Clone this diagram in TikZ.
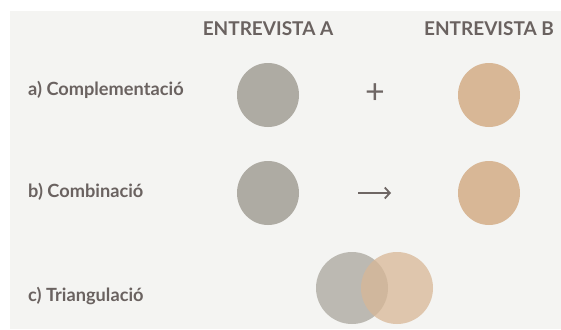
\documentclass[tikz,border=0pt]{standalone}
\usepackage{fontspec}
\usetikzlibrary{arrows.meta}
\setmainfont{Lato}[BoldFont={* Bold}]
\definecolor{bgc}{HTML}{F4F4F2}
\definecolor{txt}{HTML}{6A6260}
\definecolor{greyc}{HTML}{AEABA3}
\definecolor{orangec}{HTML}{D8B796}
\definecolor{sym}{HTML}{6E6664}
\begin{document}
\begin{tikzpicture}[x=1pt,y=-1pt,
  head/.style={font=\bfseries\fontsize{19}{21}\selectfont, text=txt, inner sep=0pt},
  rowlab/.style={font=\bfseries\fontsize{18.2}{20}\selectfont, text=txt, inner sep=0pt, anchor=west},
  symb/.style={font=\fontsize{34}{34}\selectfont, text=sym, inner sep=0pt}]
\useasboundingbox (0,0) rectangle (561,329);
\fill[white] (0,0) rectangle (561,329);
\fill[bgc] (10,11) rectangle (561,329);
\node[head] (ha) at (268,29) {ENTREVISTA A};
\node[head] (hb) at (489,29) {ENTREVISTA B};
\node[rowlab] (la) at (28,90) {a) Complementació};
\node[rowlab] (lb) at (28,192) {b) Combinació};
\node[rowlab] (lc) at (28,296) {c) Triangulació};
% row a
\fill[greyc] (268,95) ellipse [x radius=31, y radius=32];
\fill[orangec] (489,95) ellipse [x radius=31, y radius=32];
\node[symb] (plus) at (375,94) {+};
% row b
\fill[greyc] (268,193) ellipse [x radius=31, y radius=32];
\fill[orangec] (489,193) ellipse [x radius=31, y radius=32];
\coordinate (as) at (358,193);
\coordinate (ae) at (391,193);
\draw[sym, line width=1.8pt, -{Straight Barb[length=5pt,width=11pt]}] (as) -- (ae);
% row c
\fill[greyc, opacity=0.8] (352,288) ellipse [x radius=36, y radius=36];
\fill[orangec, opacity=0.75] (397,288) ellipse [x radius=36, y radius=36];
\end{tikzpicture}
\end{document}
